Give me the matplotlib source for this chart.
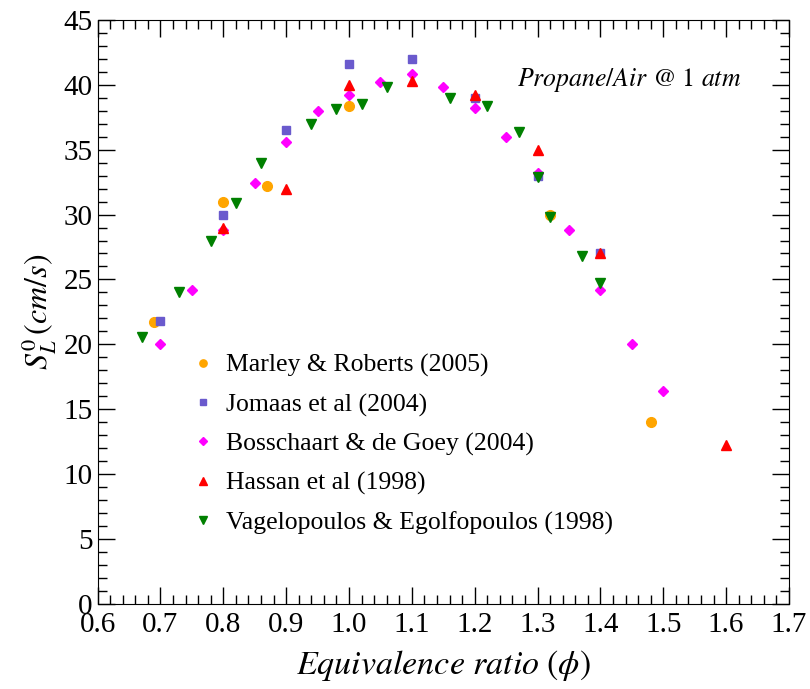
import matplotlib
matplotlib.use("Agg")
import matplotlib.pyplot as plt
from matplotlib.ticker import MultipleLocator

plt.rcParams['font.family'] = ['Liberation Serif', 'DejaVu Serif']
plt.rcParams['mathtext.fontset'] = 'stix'

# datos
marley_phi = [0.69, 0.80, 0.87, 1.00, 1.32, 1.48]
marley_sl = [21.7, 31.0, 32.2, 38.4, 30.0, 14.0]

jomaas_phi = [0.70, 0.80, 0.90, 1.00, 1.10, 1.20, 1.30, 1.40]
jomaas_sl = [21.8, 30.0, 36.5, 41.6, 42.0, 39.0, 33.0, 27.0]

boss_phi = [0.70, 0.75, 0.80, 0.85, 0.90, 0.95, 1.00, 1.05, 1.10, 1.15, 1.20,
            1.25, 1.30, 1.35, 1.40, 1.45, 1.50]
boss_sl = [20.0, 24.2, 28.8, 32.4, 35.6, 38.0, 39.2, 40.2, 40.8, 39.8, 38.2,
           36.0, 33.2, 28.8, 24.2, 20.0, 16.4]

hassan_phi = [0.80, 0.90, 1.00, 1.10, 1.20, 1.30, 1.40, 1.60]
hassan_sl = [29.0, 32.0, 40.0, 40.3, 39.2, 35.0, 27.0, 12.2]

vagel_phi = [0.67, 0.73, 0.78, 0.82, 0.86, 0.94, 0.98, 1.02, 1.06, 1.16, 1.22,
             1.27, 1.30, 1.32, 1.37, 1.40]
vagel_sl = [20.6, 24.0, 28.0, 30.9, 34.0, 37.0, 38.1, 38.5, 39.8, 39.0, 38.4,
            36.4, 32.9, 29.8, 26.8, 24.7]

x_ticks = [0.6, 0.7, 0.8, 0.9, 1.0, 1.1, 1.2, 1.3, 1.4, 1.5, 1.6, 1.7]
y_ticks = [0, 5, 10, 15, 20, 25, 30, 35, 40, 45]

fig = plt.figure(figsize=(8.1, 6.89), dpi=100)
ax = fig.add_axes([0.1205, 0.1237, 0.8535, 0.8473])

ax.plot(marley_phi, marley_sl, 'o', color='#FFA500', ms=7, ls='none',
        label='Marley & Roberts (2005)')
ax.plot(jomaas_phi, jomaas_sl, 's', color='#6A5ACD', ms=6, ls='none',
        label='Jomaas et al (2004)')
ax.plot(boss_phi, boss_sl, 'D', color='#FF00FF', ms=5.5, ls='none',
        label='Bosschaart & de Goey (2004)')
ax.plot(hassan_phi, hassan_sl, '^', color='#FF0000', ms=7, ls='none',
        label='Hassan et al (1998)')
ax.plot(vagel_phi, vagel_sl, 'v', color='#008000', ms=7, ls='none',
        label='Vagelopoulos & Egolfopoulos (1998)')

ax.set_xlim(0.6, 1.7)
ax.set_ylim(0, 45)
ax.set_xticks(x_ticks)
ax.set_xticklabels(['%.1f' % v for v in x_ticks])
ax.set_yticks(y_ticks)
ax.xaxis.set_minor_locator(MultipleLocator(0.02))
ax.yaxis.set_minor_locator(MultipleLocator(1))
ax.tick_params(which='both', direction='in', top=True, right=True, labelsize=21)
ax.tick_params(which='major', length=12, width=1)
ax.tick_params(which='minor', length=6.5, width=1)
ax.tick_params(axis='x', pad=6)

ax.set_xlabel(r'$Equivalence\ ratio\ (\phi)$', fontsize=24.5, labelpad=7)
ax.set_ylabel(r'$S_L^0\,(cm/s)$', fontsize=23, labelpad=4)

ax.text(1.445, 40.4, r'$Propane/Air\ @\ 1\ atm$', fontsize=18.5,
        ha='center', va='center')

ax.legend(loc='lower left', bbox_to_anchor=(0.10, 0.079), frameon=False,
          fontsize=18.5, handletextpad=0.4, labelspacing=0.62, handlelength=1.0,
          markerscale=0.75)

fig.savefig('out.png', dpi=100)
